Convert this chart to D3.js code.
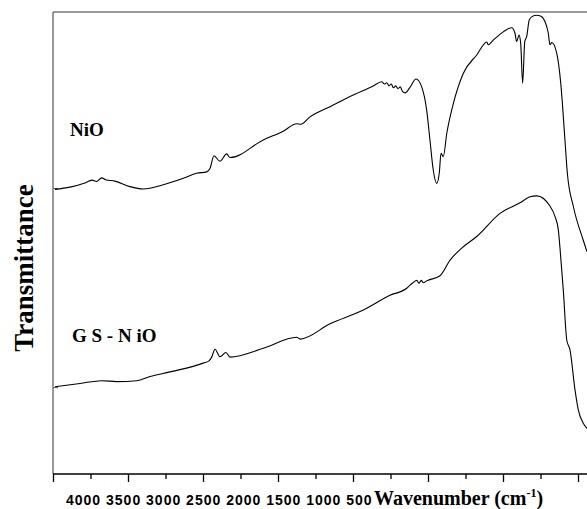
<!DOCTYPE html>
<html>
<head>
<meta charset="utf-8">
<script src="https://cdn.jsdelivr.net/npm/d3@7"></script>
<style>
  body { margin: 0; background: #fff; }
  svg { display: block; }
</style>
</head>
<body>
<svg id="chart" width="587" height="509"></svg>
<script>
// =============================
// FTIR spectra, NiO and GS-NiO
// =============================

// wavenumber (cm-1)
const nioWave = [3987, 3887, 3787, 3740, 3710, 3675, 3650, 3587, 3487, 3398, 3265, 3131, 3042, 2975, 2953, 2927,
    2887, 2842, 2820, 2598, 2465, 2375, 2349, 2287, 2153, 2020, 1865, 1809, 1790, 1775, 1760, 1745, 1730, 1715,
    1700, 1685, 1670, 1653, 1620, 1580, 1542, 1509, 1487, 1465, 1442, 1425, 1413, 1398, 1375, 1331, 1265, 1175,
    1107, 1100, 1065, 998, 942, 920, 909, 893, 882, 869, 855, 842, 825, 807, 775, 747, 720, 698, 687, 675, 642,
    615, 587, 571, 531, 465, 440];
const nioT = [61.6, 62.1, 63.0, 63.6, 63.3, 64.1, 63.7, 63.4, 62.2, 61.7, 62.6, 64.0, 65.1, 65.4, 66.2, 68.9,
    67.7, 69.3, 68.5, 72.3, 74.2, 75.8, 75.7, 77.3, 79.5, 81.7, 84.0, 84.9, 84.4, 84.7, 84.0, 84.4, 83.6, 84.0,
    83.4, 83.8, 82.8, 82.5, 83.7, 85.5, 83.8, 78.8, 72.3, 65.8, 62.9, 65.1, 69.4, 68.7, 73.7, 80.2, 86.7, 90.7,
    93.5, 92.9, 93.9, 95.7, 96.6, 95.4, 93.6, 95.0, 93.2, 84.6, 93.6, 94.7, 98.3, 99.0, 99.3, 99.1, 97.9, 95.4,
    92.9, 93.4, 91.1, 84.6, 72.3, 65.1, 57.9, 50.6, 48.1];

const gsWave = [3987, 3820, 3675, 3575, 3442, 3353, 3220, 2998, 2960, 2942, 2920, 2887, 2847, 2820, 2598, 2375,
    2353, 2153, 1931, 1753, 1642, 1620, 1600, 1575, 1560, 1545, 1530, 1509, 1420, 1353, 1275, 1175, 1020, 887,
    820, 775, 687, 653, 631, 620, 598, 575, 553, 520, 498, 465, 440];
const gsT = [18.9, 19.6, 20.2, 20.0, 20.2, 21.1, 22.1, 24.0, 24.5, 25.3, 27.0, 25.4, 26.3, 25.3, 27.2, 29.6,
    29.2, 32.5, 35.5, 38.7, 40.2, 40.9, 41.4, 41.9, 41.3, 41.9, 41.4, 41.8, 42.9, 46.3, 48.9, 51.4, 56.4, 58.7,
    60.0, 60.2, 58.0, 55.7, 52.8, 48.9, 39.8, 29.0, 26.8, 18.2, 13.9, 11.0, 9.9];

const seriesNames = ["NiO", "G S - N iO"];
const xTicks = [4000, 3750, 3500, 3250, 3000, 2750, 2500, 2250, 2000, 1750, 1500, 1250, 1000, 750, 500];
const xTickLabels = ["4000", "3500", "3000", "2500", "2000", "1500", "1000", "500"];
const yTicks = [61.9, 18.8];

const svg = d3.select("#chart");

const plotLeft = 53, plotRight = 587, plotTop = 12, plotBottom = 474;

const x = d3.scaleLinear().domain([4000, 440]).range([plotLeft, plotRight]);
const y = d3.scaleLinear().domain([0, 100]).range([plotBottom, plotTop]);

// frame: grey left and top, black bottom
svg.append("line")
    .attr("x1", plotLeft).attr("x2", plotRight)
    .attr("y1", plotTop).attr("y2", plotTop)
    .attr("stroke", "#777").attr("stroke-width", 1.5);

const yAxis = svg.append("g")
    .attr("transform", `translate(${plotLeft},0)`)
    .call(d3.axisRight(y).tickValues(yTicks).tickSize(5).tickFormat(""));
yAxis.select(".domain").remove();
yAxis.selectAll(".tick line").attr("stroke", "#555");

svg.append("line")
    .attr("x1", plotLeft).attr("x2", plotLeft)
    .attr("y1", plotTop).attr("y2", plotBottom)
    .attr("stroke", "#777").attr("stroke-width", 1.5);

const xAxis = svg.append("g")
    .attr("transform", `translate(0,${plotBottom})`)
    .call(d3.axisBottom(x).tickValues(xTicks).tickSizeOuter(0).tickFormat(""));
xAxis.select(".domain")
    .attr("d", `M${plotLeft},0H${plotRight}`)
    .attr("stroke", "#000").attr("stroke-width", 1.5);
xAxis.selectAll(".tick line")
    .attr("y2", d => d % 500 === 0 ? 8 : 5)
    .attr("stroke", "#000").attr("stroke-width", 1.3);

// tick labels are set as one run of text, as in the original figure
svg.append("text")
    .attr("x", 66).attr("y", 505)
    .attr("font-family", "Liberation Sans, Arial, sans-serif")
    .attr("font-weight", "bold")
    .attr("font-size", 14)
    .attr("letter-spacing", 1)
    .attr("fill", "#000")
    .text(xTickLabels.join(" "));

const xLabel = svg.append("text")
    .attr("x", 374).attr("y", 505)
    .attr("font-family", "Liberation Serif, Times New Roman, serif")
    .attr("font-weight", "bold")
    .attr("font-size", 20)
    .attr("fill", "#000");
xLabel.append("tspan").text("Wavenumber (cm");
xLabel.append("tspan").attr("font-size", 12).attr("dy", -8).text("-1");
xLabel.append("tspan").attr("dy", 8).text(")");

svg.append("text")
    .attr("transform", `translate(33,268) rotate(-90)`)
    .attr("text-anchor", "middle")
    .attr("font-family", "Liberation Serif, Times New Roman, serif")
    .attr("font-weight", "bold")
    .attr("font-size", 27)
    .attr("fill", "#000")
    .text("Transmittance");

// spectra
const line = d3.line()
    .x(d => x(d[0]))
    .y(d => y(d[1]))
    .curve(d3.curveMonotoneX);

const series = [d3.zip(nioWave, nioT), d3.zip(gsWave, gsT)];

svg.append("g")
    .selectAll("path")
    .data(series)
    .enter()
    .append("path")
    .attr("d", line)
    .attr("fill", "none")
    .attr("stroke", "#000")
    .attr("stroke-width", 1.1);

// curve names
const labelPos = [[70, 136], [72, 342]];
svg.append("g")
    .selectAll("text")
    .data(seriesNames)
    .enter()
    .append("text")
    .attr("x", (d, i) => labelPos[i][0])
    .attr("y", (d, i) => labelPos[i][1])
    .attr("font-family", "Liberation Serif, Times New Roman, serif")
    .attr("font-weight", "bold")
    .attr("font-size", 19)
    .attr("fill", "#000")
    .style("white-space", "pre")
    .text(d => d);
</script>
</body>
</html>
